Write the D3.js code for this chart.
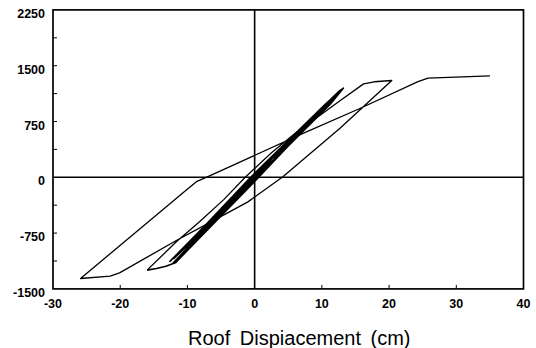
<!DOCTYPE html>
<html>
<head>
<meta charset="utf-8">
<script src="https://cdnjs.cloudflare.com/ajax/libs/d3/7.8.5/d3.min.js"></script>
<style>
  body { margin: 0; background: #fff; }
  text { font-family: "Liberation Sans", Arial, Helvetica, sans-serif; fill: #000; }
</style>
</head>
<body>
<div id="chart"></div>
<script>
// axis ticks
const xTicks = [-30, -20, -10, 0, 10, 20, 30, 40];
const yTicks = [-1500, -750, 0, 750, 1500, 2250];
const yMinorTicks = [-1125, -750, -375, 375, 750, 1125, 1500, 1875];
const xMinorTicks = [-20, -10, 10, 20, 30];

// response curve, [displacement cm, base shear]
// small cycles (the dark band)
const band = [
  [0, 0], [2.4, 220], [0.4, 0], [-2.5, -230], [-0.4, 0],
  [4.9, 445], [0.45, 0], [-5.1, -460], [-0.45, 0],
  [7.4, 670], [0.5, 0], [-7.7, -700], [-0.5, 0],
  [9.9, 900], [0.55, 0], [-10.1, -920], [-0.55, 0],
  [11.9, 1080], [0.6, 0], [-12.0, -1090], [-0.6, 0],
  [10.5, 980], [12.9, 1178], [11.2, 980], [0.35, 0], [-12.6, -1130], [-0.35, 0],
  [10.7, 990], [13.1, 1188], [11.4, 1000], [0.15, 0], [-11.5, -1120], [-0.15, 0],
  [10.3, 960], [12.7, 1168], [11.0, 960], [0.25, 0], [-12.2, -1160], [-0.25, 0],
  [13.2, 1198], [10.6, 930], [12.6, 1150],
  [0.6, 0], [-11.8, -1150], [-13.2, -1195], [-14.6, -1225], [-16.0, -1248]
];
// second cycle up to ~20 cm
const middleLoop = [
  [-16.0, -1248], [-11.65, -867], [-8.2, -598], [-4.6, -300], [-1.4, 0], [2.5, 330], [6, 590],
  [12.7, 1030], [16.2, 1256], [17.8, 1284], [20.4, 1301]
];
// unloading to the largest negative peak
const unloadBranch = [
  [12.7, 659], [4.2, 8], [-1, -330], [-6.7, -610], [-11.65, -850],
  [-20.1, -1284], [-21.5, -1329], [-25.9, -1360]
];
// final reloading to the end point
const finalBranch = [
  [-10.16, -171], [-8.67, -59], [-7.2, 0], [-2.2, 205], [7.2, 590],
  [15.65, 925], [24.3, 1287], [25.8, 1333], [35, 1364]
];

const W = 536, H = 348;
const svg = d3.select('#chart').append('svg')
  .attr('width', W)
  .attr('height', H);

const x = d3.scaleLinear().domain([-30, 40]).range([53, 523.5]);
const y = d3.scaleLinear().domain([-1500, 2250]).range([288.9, 9.9]);

// zero lines
svg.append('line')
  .attr('x1', x(-30)).attr('x2', x(40))
  .attr('y1', y(0)).attr('y2', y(0))
  .attr('stroke', '#000').attr('stroke-width', 1.6);
svg.append('line')
  .attr('x1', x(0)).attr('x2', x(0))
  .attr('y1', y(-1500)).attr('y2', y(2250))
  .attr('stroke', '#000').attr('stroke-width', 1.6);

// inward ticks
svg.append('g')
  .selectAll('line')
  .data(yMinorTicks)
  .join('line')
  .attr('x1', x(-30)).attr('x2', x(-30) + 4)
  .attr('y1', d => y(d)).attr('y2', d => y(d))
  .attr('stroke', '#000').attr('stroke-width', 1);
svg.append('g')
  .selectAll('line')
  .data(xMinorTicks)
  .join('line')
  .attr('x1', d => x(d)).attr('x2', d => x(d))
  .attr('y1', y(-1500)).attr('y2', y(-1500) - 4)
  .attr('stroke', '#000').attr('stroke-width', 1);

// frame
svg.append('rect')
  .attr('x', x(-30)).attr('y', y(2250))
  .attr('width', x(40) - x(-30)).attr('height', y(-1500) - y(2250))
  .attr('fill', 'none').attr('stroke', '#000').attr('stroke-width', 1.7);

// tick labels
svg.append('g')
  .selectAll('text')
  .data(yTicks)
  .join('text')
  .attr('x', 45)
  .attr('y', d => y(d) + 8)
  .attr('text-anchor', 'end')
  .style('font-size', '12.5px')
  .style('font-weight', '700')
  .text(d => d);
svg.append('g')
  .selectAll('text')
  .data(xTicks)
  .join('text')
  .attr('x', d => x(d))
  .attr('y', 308)
  .attr('text-anchor', 'middle')
  .style('font-size', '12.5px')
  .style('font-weight', '700')
  .text(d => d);

// axis title
svg.append('text')
  .attr('x', 188)
  .attr('y', 344.5)
  .style('font-size', '20px')
  .style('word-spacing', '4px')
  .text('Roof Dispiacement (cm)');

// curve
const line = d3.line().x(d => x(d[0])).y(d => y(d[1]));
svg.append('path')
  .attr('d', line(band))
  .attr('fill', 'none')
  .attr('stroke', '#000')
  .attr('stroke-width', 1.6)
  .attr('stroke-linejoin', 'round');
svg.append('path')
  .attr('d', line([].concat(middleLoop, unloadBranch, finalBranch)))
  .attr('fill', 'none')
  .attr('stroke', '#000')
  .attr('stroke-width', 1.3)
  .attr('stroke-linejoin', 'round');
</script>
</body>
</html>
